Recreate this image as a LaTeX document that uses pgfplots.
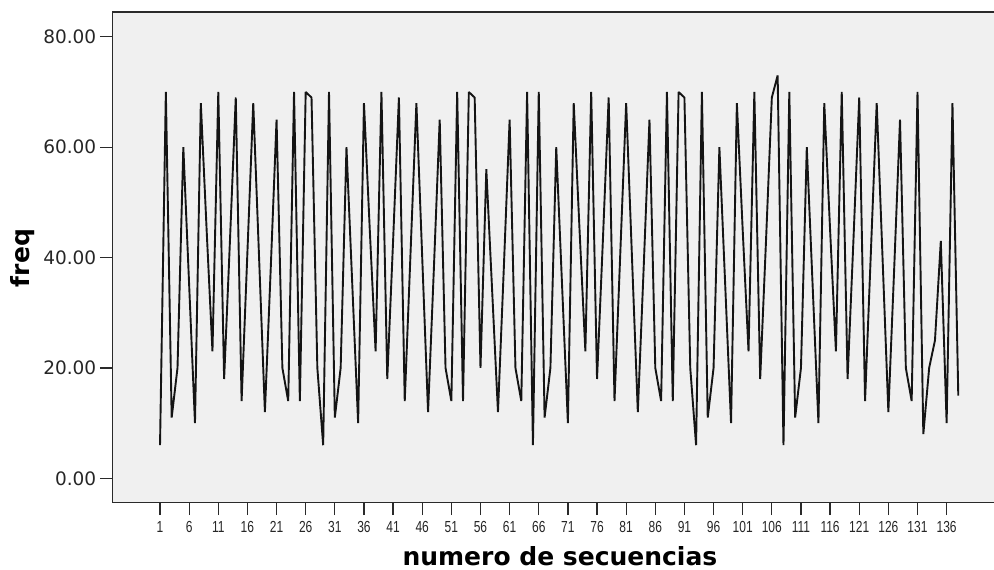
\documentclass[border=0pt]{standalone}
\usepackage{pgfplots}
\pgfplotsset{compat=1.18}
\usepackage{fontspec}
\usepackage{graphicx}
\setmainfont{DejaVu Sans}
\newfontfamily\lib{Liberation Sans}
\definecolor{bgc}{HTML}{F0F0F0}
\definecolor{axc}{HTML}{2A2A2A}
\definecolor{txt}{HTML}{262626}
\pgfplotstableread{
i v
1 6
2 70
3 11
4 20
5 60
6 35
7 10
8 68
9 45
10 23
11 70
12 18
13 43
14 69
15 14
16 41
17 68
18 40
19 12
20 38
21 65
22 20
23 14
24 70
25 14
26 70
27 69
28 20
29 6
30 70
31 11
32 20
33 60
34 35
35 10
36 68
37 45
38 23
39 70
40 18
41 43
42 69
43 14
44 41
45 68
46 40
47 12
48 38
49 65
50 20
51 14
52 70
53 14
54 70
55 69
56 20
57 56
58 34
59 12
60 38
61 65
62 20
63 14
64 70
65 6
66 70
67 11
68 20
69 60
70 35
71 10
72 68
73 45
74 23
75 70
76 18
77 43
78 69
79 14
80 41
81 68
82 40
83 12
84 38
85 65
86 20
87 14
88 70
89 14
90 70
91 69
92 20
93 6
94 70
95 11
96 20
97 60
98 35
99 10
100 68
101 45
102 23
103 70
104 18
105 43
106 69
107 73
108 6
109 70
110 11
111 20
112 60
113 35
114 10
115 68
116 45
117 23
118 70
119 18
120 43
121 69
122 14
123 41
124 68
125 40
126 12
127 38
128 65
129 20
130 14
131 70
132 8
133 20
134 25
135 43
136 10
137 68
138 15
}\freqdata
\begin{document}
\begin{tikzpicture}
\useasboundingbox (0,0) rectangle (994pt,570pt);
\begin{axis}[
  at={(112.3pt,67.3pt)}, anchor=south west,
  scale only axis, width=881.7pt, height=490.7pt,
  xmin=-7.19, xmax=144.13, ymin=-4.42, ymax=84.5,
  axis background/.style={fill=bgc},
  axis x line*=bottom, axis y line*=left,
  axis line style={draw=axc, line width=1.3pt, -},
  xtick={1,6,...,136}, ytick={0,20,...,80},
  tick align=outside, major tick length=12.5pt,
  tick style={draw=axc, line width=1.3pt},
  yticklabel style={font=\fontsize{18.5}{20}\selectfont, text=txt,
    /pgf/number format/.cd, fixed, fixed zerofill, precision=2, assume math mode=true},
  xticklabel style={font=\lib\fontsize{16}{16}\selectfont, text=txt, yshift=-3pt},
  xticklabel={\scalebox{0.75}[1]{\pgfmathprintnumber[assume math mode=true]{\tick}}},
  xlabel={numero de secuencias},
  ylabel={freq},
  every axis x label/.style={at={(axis description cs:0.5077,-0.1285)}, anchor=base,
    font=\bfseries\fontsize{25}{26}\selectfont, text=black},
  every axis y label/.style={at={(axis description cs:-0.1013,0.4987)}, anchor=center, rotate=90,
    font=\bfseries\fontsize{25}{26}\selectfont, text=black},
  clip=false,
]
\addplot[color=black!92, line width=1.9pt, line join=bevel, mark=none] table[x=i, y=v] {\freqdata};
\draw[axc, line width=1.3pt] (rel axis cs:0,1) -- (rel axis cs:1,1);
\end{axis}
\end{tikzpicture}
\end{document}
